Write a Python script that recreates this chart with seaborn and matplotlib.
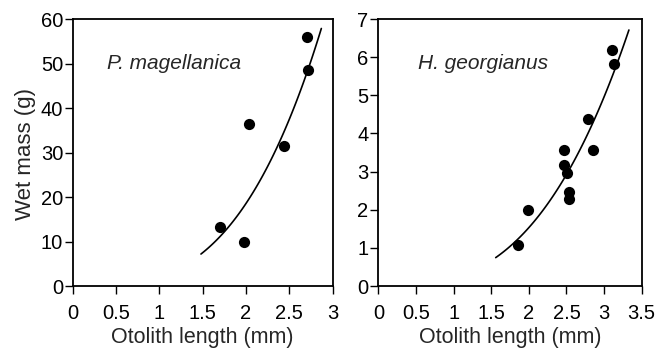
import numpy as np
import pandas as pd
import matplotlib
matplotlib.use('Agg')
import matplotlib.pyplot as plt
import seaborn as sns

# P. magellanica
pm_len = [1.70, 1.98, 2.04, 2.44, 2.71, 2.72]
pm_mass = [13.3, 9.8, 36.3, 31.5, 56.0, 48.5]
pm_fit = (2.09, 3.15)          # W = a * L^b
pm_fit_range = (1.48, 2.87)

# H. georgianus
hg_len = [1.85, 1.99, 2.47, 2.47, 2.51, 2.54, 2.53, 2.78, 2.85, 3.10, 3.13]
hg_mass = [1.07, 1.98, 3.57, 3.17, 2.97, 2.47, 2.27, 4.38, 3.57, 6.19, 5.82]
hg_fit = (0.205, 2.9)
hg_fit_range = (1.56, 3.33)

sns.set_style('ticks')
plt.rcParams['font.family'] = ['Liberation Sans', 'DejaVu Sans']

fig = plt.figure(figsize=(6.56, 3.49), dpi=100)
ax1 = fig.add_axes([0.111, 0.1805, 0.396, 0.765])
ax2 = fig.add_axes([0.5767, 0.1805, 0.4015, 0.765])


def panel(ax, xs, ys, fit, rng, name, xlim, xticks, ylim, yticks):
    df = pd.DataFrame({'x': xs, 'y': ys})
    sns.scatterplot(data=df, x='x', y='y', ax=ax, color='black', s=65,
                    edgecolor='black', linewidth=0)
    xf = np.linspace(rng[0], rng[1], 100)
    cf = pd.DataFrame({'x': xf, 'y': fit[0] * xf ** fit[1]})
    sns.lineplot(data=cf, x='x', y='y', ax=ax, color='black', lw=1.2)
    ax.set_xlim(xlim)
    ax.set_ylim(ylim)
    ax.set_xticks(xticks)
    ax.set_xticklabels([f'{t:g}' for t in xticks])
    ax.set_yticks(yticks)
    ax.set_xlabel('Otolith length (mm)', fontsize=15.5, labelpad=3)
    ax.set_ylabel('')
    ax.tick_params(axis='both', direction='out', length=6, width=1,
                   labelsize=14.5, colors='black')
    ax.tick_params(axis='x', pad=7)
    ax.tick_params(axis='y', pad=1)
    for s in ax.spines.values():
        s.set_color('black')
        s.set_linewidth(1.3)
    ax.text(0.13, 0.835, name, transform=ax.transAxes, style='italic',
            fontsize=15, va='center', ha='left')


panel(ax1, pm_len, pm_mass, pm_fit, pm_fit_range, 'P. magellanica',
      (0, 3), [0, 0.5, 1, 1.5, 2, 2.5, 3], (0, 60), range(0, 61, 10))
panel(ax2, hg_len, hg_mass, hg_fit, hg_fit_range, 'H. georgianus',
      (0, 3.5), [0, 0.5, 1, 1.5, 2, 2.5, 3, 3.5], (0, 7), range(0, 8))
ax2.texts[0].set_x(0.152)
ax1.set_ylabel('Wet mass (g)', fontsize=16)
ax1.yaxis.set_label_coords(-0.14, 0.494)

fig.savefig('out.png', dpi=100)
